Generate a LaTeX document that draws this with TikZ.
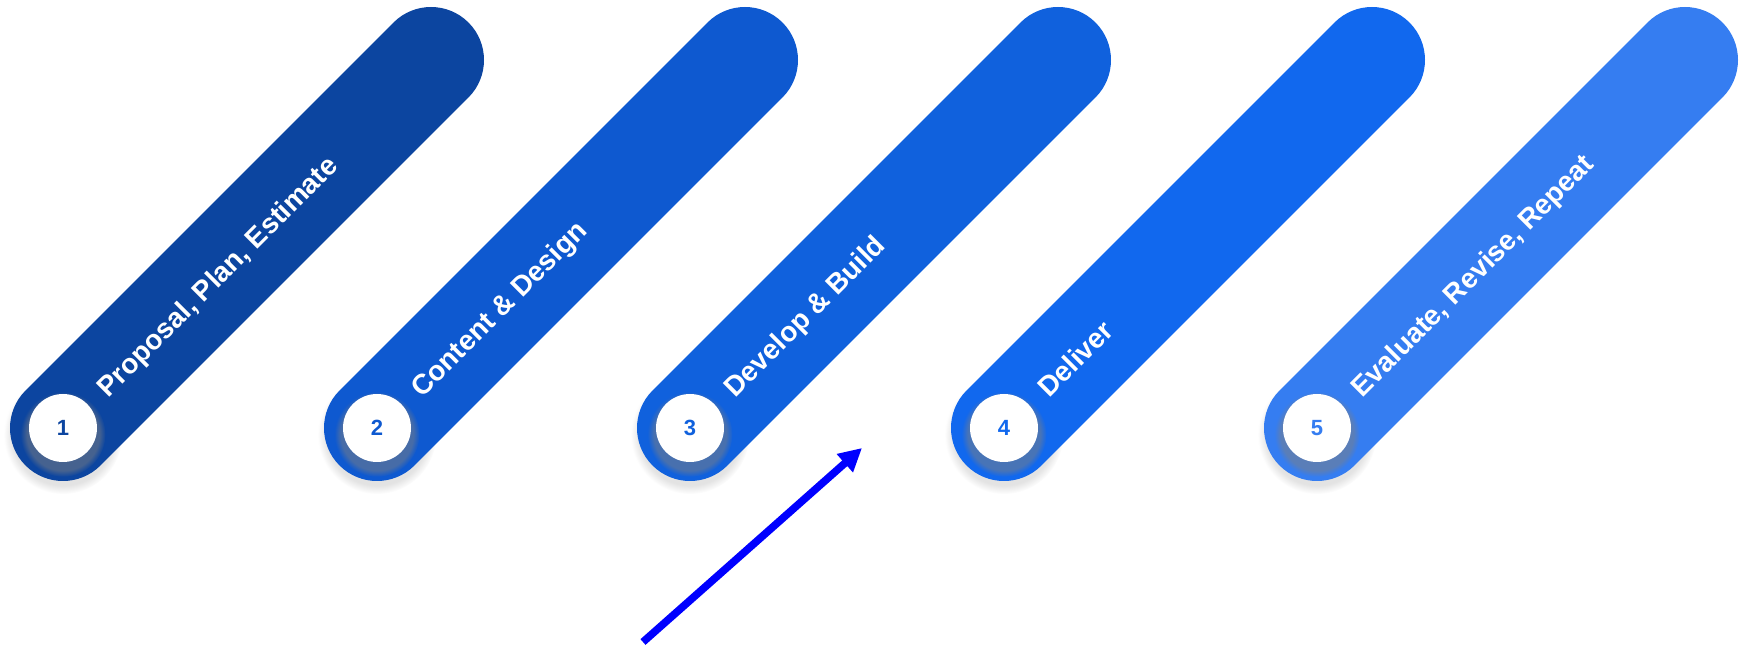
\documentclass[tikz,border=0pt]{standalone}
\usepackage{fontspec}
\setmainfont{Liberation Sans}
\usetikzlibrary{positioning,arrows.meta,shadows}
\definecolor{stageone}{RGB}{12,69,160}
\definecolor{stagetwo}{RGB}{14,89,208}
\definecolor{stagethree}{RGB}{16,97,221}
\definecolor{stagefour}{RGB}{17,104,238}
\definecolor{stagefive}{RGB}{53,125,241}
\begin{document}
\begin{tikzpicture}[x=0.5pt,y=-0.5pt,
			>={Triangle[length=11.5pt,width=11.5pt]},
			bar/.style={line width=53pt,line cap=round},
			barshadow/.style={circular drop shadow={shadow xshift=0pt,shadow yshift=-3pt,shadow scale=1.12,opacity=0.22}},
			num/.style={
				circle,
				fill=white,
				minimum size=34pt,
				inner sep=0pt,
				font=\bfseries\fontsize{11}{13}\selectfont,
				circular drop shadow={shadow xshift=0pt,shadow yshift=-2.5pt,shadow scale=1.25,opacity=0.5}
			},
			stagetext/.style={
				rotate=45,
				anchor=base west,
				inner sep=0pt,
				text=white,
				font=\bfseries\fontsize{14}{16}\selectfont
			}]
			
			\useasboundingbox (0,0) rectangle (1742,646);
			
			\coordinate (s1) at (63,428);
			\coordinate (e1) at (431,60);
			\coordinate (s2) at (377,428);
			\coordinate (e2) at (745,60);
			\coordinate (s3) at (690,428);
			\coordinate (e3) at (1058,60);
			\coordinate (s4) at (1004,428);
			\coordinate (e4) at (1372,60);
			\coordinate (s5) at (1317,428);
			\coordinate (e5) at (1685,60);
			
			\path[barshadow] (s1) circle (53);
			\path[barshadow] (s2) circle (53);
			\path[barshadow] (s3) circle (53);
			\path[barshadow] (s4) circle (53);
			\path[barshadow] (s5) circle (53);
			
			\draw[bar,stageone](s1)--(e1);
			\draw[bar,stagetwo](s2)--(e2);
			\draw[bar,stagethree](s3)--(e3);
			\draw[bar,stagefour](s4)--(e4);
			\draw[bar,stagefive](s5)--(e5);
			
			\node (n1)[num,text=stageone] at (s1){1};
			\node (n2)[num,text=stagetwo] at (s2){2};
			\node (n3)[num,text=stagethree] at (s3){3};
			\node (n4)[num,text=stagefour] at (s4){4};
			\node (n5)[num,text=stagefive] at (s5){5};
			
			\node (l1)[stagetext] at ([shift={(45,-29)}]n1.center){Proposal, Plan, Estimate};
			\node (l2)[stagetext] at ([shift={(45,-29)}]n2.center){Content \& Design};
			\node (l3)[stagetext] at ([shift={(45,-29)}]n3.center){Develop \& Build};
			\node (l4)[stagetext] at ([shift={(45,-29)}]n4.center){Deliver};
			\node (l5)[stagetext] at ([shift={(45,-29)}]n5.center){Evaluate, Revise, Repeat};
			
			\coordinate (a0) at (643,642);
			\coordinate (a1) at (862,448);
			\draw[->,line width=3.8pt,blue](a0)--(a1);
			
\end{tikzpicture}
\end{document}
